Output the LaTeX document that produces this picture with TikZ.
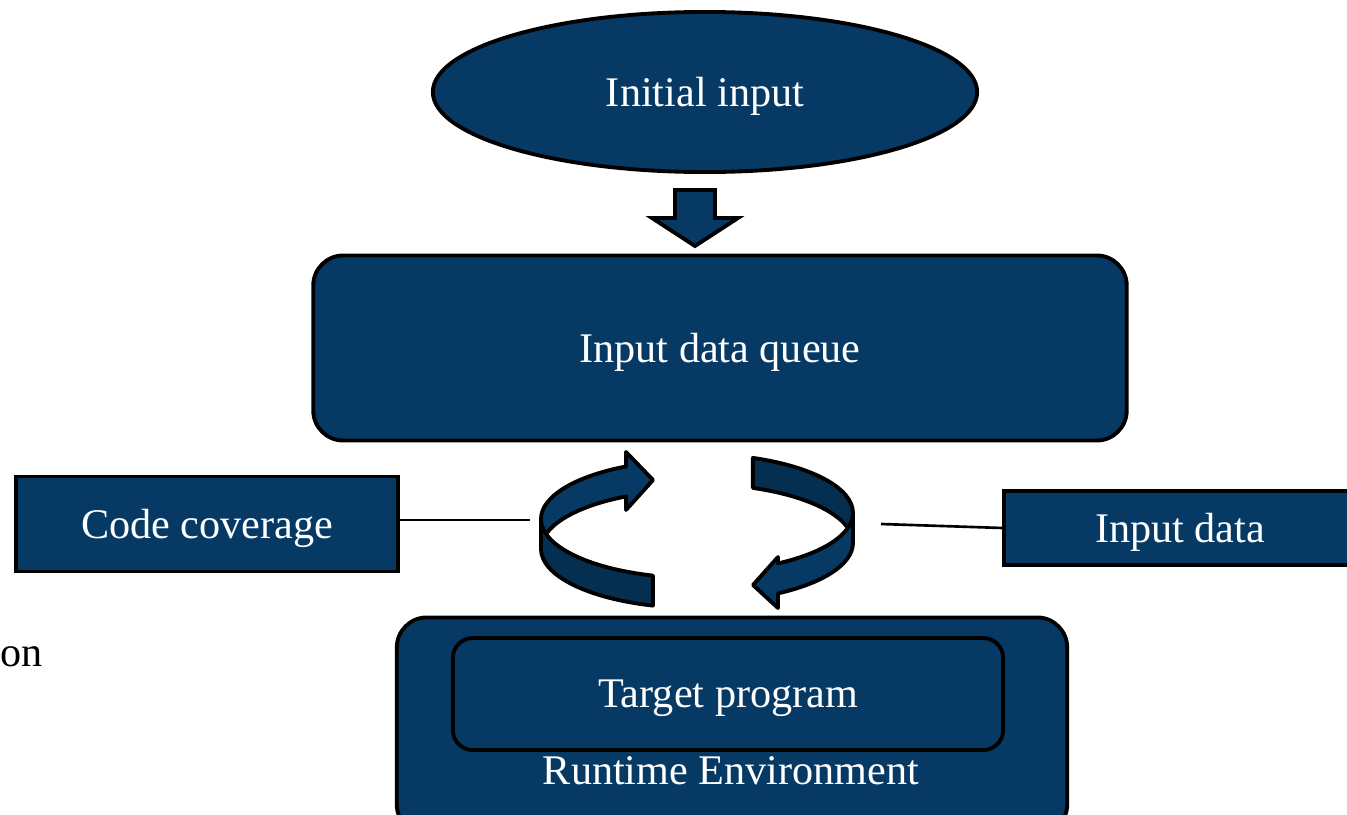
\documentclass[tikz,border=0pt]{standalone}
\usepackage{fontspec}
\setmainfont{Liberation Serif}
\usetikzlibrary{shapes.geometric}
\definecolor{boxblue}{RGB}{6,58,101}
\definecolor{bandblue}{RGB}{5,47,80}
\begin{document}
\begin{tikzpicture}[x=0.01cm,y=0.01cm,
        font=\fontsize{12}{14.4}\selectfont,
        blk/.style={draw=black,line width=1.1pt,fill=boxblue,text=white,
            inner sep=0pt,text depth=0pt},
        rbox/.style={blk,rounded corners=0.3cm},
        ribbon/.style={draw=black,line width=1.1pt,line join=round},
        link/.style={draw=black,line width=0.75pt}]
\useasboundingbox (0,0) rectangle (1347,814);

\node[blk,ellipse,minimum width=5.44cm,minimum height=1.6cm] (init) at (705,722) {Initial input};
\node[rbox,minimum width=8.13cm,minimum height=1.85cm] (queue) at (720,466) {Input data queue};
\node[blk,minimum width=3.82cm,minimum height=0.95cm] (cover) at (207,290) {Code coverage};
\node[blk,minimum width=3.51cm,minimum height=0.74cm] (indata) at (1180,286) {Input data};
\node[rbox,minimum width=6.7cm,minimum height=2.17cm] (runtime) at (732,88) {};
\node[rbox,rounded corners=0.2cm,minimum width=5.5cm,minimum height=1.12cm] (target) at (728,120) {Target program};
\node[text=white] (rtlabel) at (731,43) {Runtime Environment};
\node[anchor=base west,inner sep=0pt] (cut) at (0,148) {on};

% block arrow
\draw[blk] (675,624) -- (715,624) -- (715,596) -- (738,596) -- (695,568)
    -- (652,596) -- (675,596) -- cycle;

% left ribbon
\draw[ribbon,fill=boxblue] (541,295) arc[start angle=180,end angle=117,x radius=156,y radius=59]
    -- (626,362) -- (653,334) -- (626,304) -- (626.2,317.6)
    arc[start angle=117,end angle=180,x radius=156,y radius=59] -- cycle;
\draw[ribbon,fill=bandblue] (541,295) arc[start angle=180,end angle=253.6,x radius=156,y radius=59]
    -- ++(0,-30) arc[start angle=253.6,end angle=180,x radius=156,y radius=59] -- cycle;

% right ribbon
\draw[ribbon,fill=bandblue] (752.9,356.1) arc[start angle=69,end angle=0,x radius=156,y radius=59]
    -- ++(0,-30) arc[start angle=0,end angle=69,x radius=156,y radius=59] -- cycle;
\draw[ribbon,fill=boxblue] (853,301) arc[start angle=360,end angle=301.3,x radius=156,y radius=59]
    -- (778,257) -- (753,229) -- (778,206) -- (778,220.6)
    arc[start angle=301.3,end angle=360,x radius=156,y radius=59] -- cycle;

\coordinate (covL) at (530,294);
\coordinate (covR) at (881,290);
\draw[link] (cover.east |- covL) -- (covL);
\draw[link] (covR) -- (indata.west);
\end{tikzpicture}
\end{document}
